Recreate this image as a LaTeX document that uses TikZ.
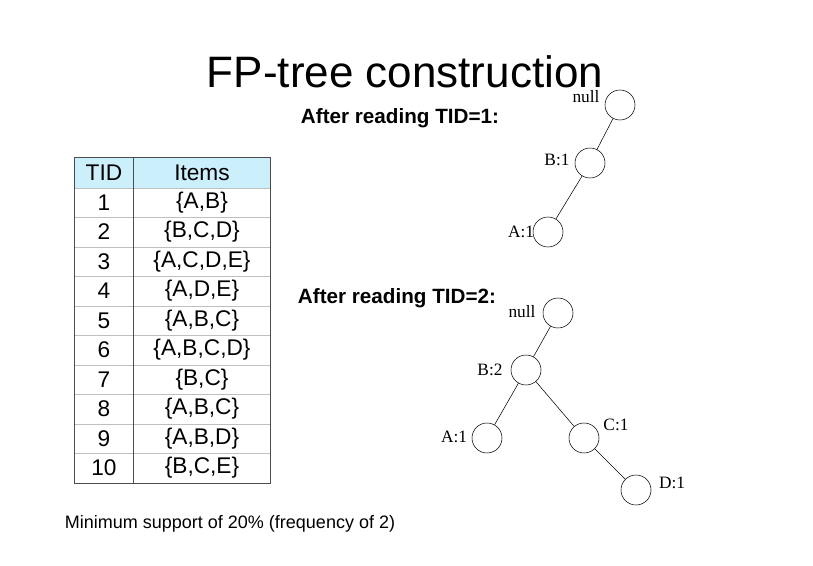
\documentclass[tikz,border=0pt]{standalone}
\usepackage{fontspec}
\setmainfont{Liberation Sans}
\newfontfamily\serifF{Liberation Serif}
\begin{document}
\begin{tikzpicture}[x=0.75pt,y=-0.75pt,
  nd/.style={circle,draw,minimum size=22.5pt,inner sep=0pt},
  lb/.style={font=\serifF\fontsize{13}{13}\selectfont},
  cell/.style={font=\fontsize{17}{17}\selectfont}]
\useasboundingbox (0,0) rectangle (813,566);
\node[font=\fontsize{33}{33}\selectfont] (title) at (405,72) {FP-tree construction};
\node[font=\bfseries\fontsize{15.5}{15.5}\selectfont] (h1) at (400,118) {After reading TID=1:};
\node[font=\bfseries\fontsize{15.5}{15.5}\selectfont] (h2) at (397,298) {After reading TID=2:};
\node[font=\fontsize{13.5}{13.5}\selectfont] (foot) at (230,524) {Minimum support of 20\% (frequency of 2)};
% table
\fill[cyan!20] (74,157) rectangle (270,188);
\foreach \i in {1,...,9} \draw[black!25] (74,{188+29.5*\i}) -- (270,{188+29.5*\i});
\draw[black!25] (74,188) -- (270,188);
\draw[black!70] (133,157) -- (133,483);
\draw[black!70] (74,157) rectangle (270,483);
\node[cell] (th1) at (104,173) {TID};
\node[cell] (th2) at (202,173) {Items};
\foreach \n/\s [count=\k] in {1/{\{A,B\}},2/{\{B,C,D\}},3/{\{A,C,D,E\}},4/{\{A,D,E\}},5/{\{A,B,C\}},6/{\{A,B,C,D\}},7/{\{B,C\}},8/{\{A,B,C\}},9/{\{A,B,D\}},10/{\{B,C,E\}}}{
  \node[cell] (t\k) at (104,{173+29.5*\k}) {\n};
  \node[cell] (s\k) at (202,{173+29.5*\k}) {\s};
}
% tree 1
\node[nd] (n0) at (620,105) {};
\node[nd] (b1) at (590,163) {};
\node[nd] (a1) at (548,232) {};
\node[lb] at (586,97) {null};
\node[lb] at (557,160) {B:1};
\node[lb] at (521,232) {A:1};
\draw (n0) -- (b1); \draw (b1) -- (a1);
% tree 2
\node[nd] (m0) at (558,313) {};
\node[nd] (b2) at (526,370) {};
\node[nd] (a2) at (487,438) {};
\node[nd] (c2) at (584,438) {};
\node[nd] (d2) at (636,490) {};
\node[lb] at (522,312) {null};
\node[lb] at (490,370) {B:2};
\node[lb] at (454,437) {A:1};
\node[lb] at (616,425) {C:1};
\node[lb] at (672,483) {D:1};
\draw (m0) -- (b2); \draw (b2) -- (a2); \draw (b2) -- (c2); \draw (c2) -- (d2);
\end{tikzpicture}
\end{document}
